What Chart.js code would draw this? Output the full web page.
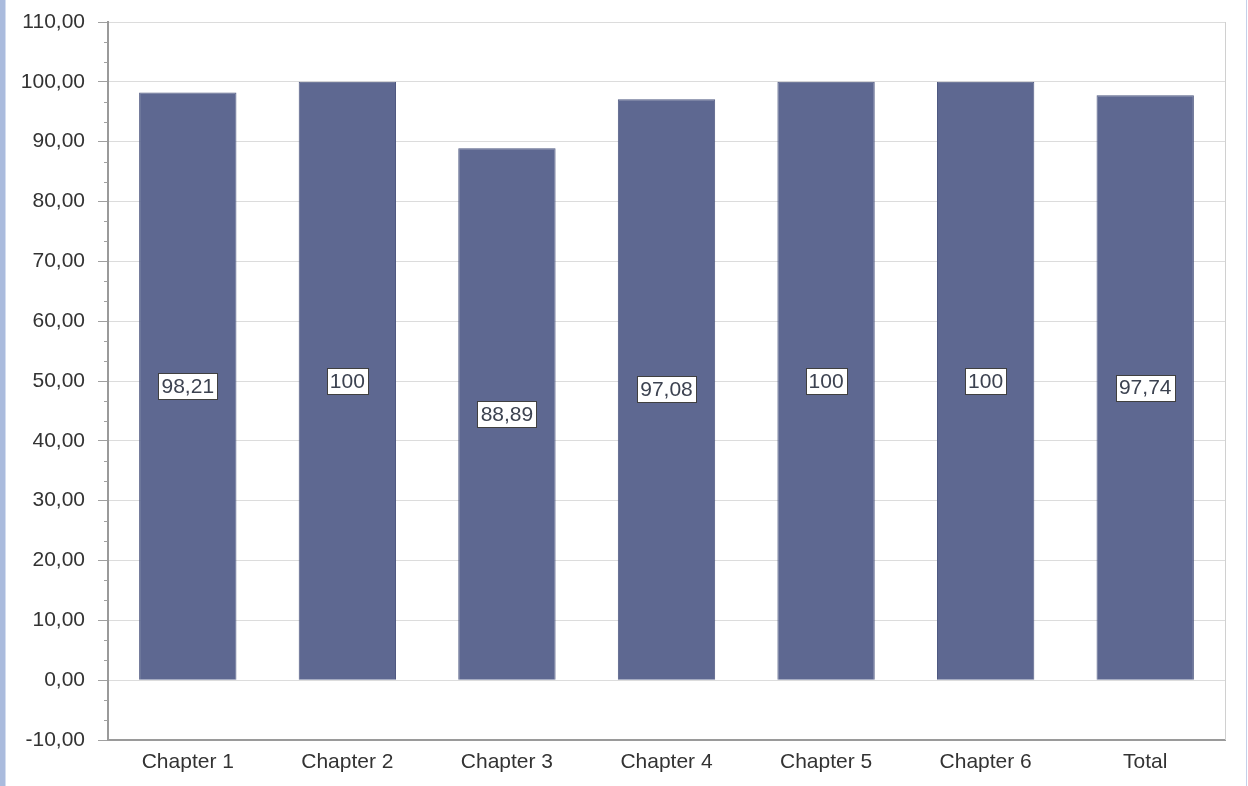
<!DOCTYPE html>
<html>
<head>
<meta charset="utf-8">
<script src="https://cdn.jsdelivr.net/npm/chart.js@4.4.1/dist/chart.umd.min.js"></script>
<style>
  html, body { margin: 0; padding: 0; background: #fff; }
  #wrap { position: relative; width: 1248px; height: 786px; overflow: hidden; }
  #lb { position: absolute; left: 0; top: 0; width: 5px; height: 786px; background: #aabbdd; border-right: 1px solid #d3ddef; }
  #rb { position: absolute; left: 1246px; top: 0; width: 1px; height: 786px; background: #c5d0ea; }
  canvas { position: absolute; left: 0; top: 0; }
</style>
</head>
<body>
<div id="wrap">
  <canvas id="c" width="1248" height="786"></canvas>
  <div id="lb"></div>
  <div id="rb"></div>
</div>
<script>
const categories = ["Chapter 1", "Chapter 2", "Chapter 3", "Chapter 4", "Chapter 5", "Chapter 6", "Total"];
const values = [98.21, 100, 88.89, 97.08, 100, 100, 97.74];
const valueLabels = ["98,21", "100", "88,89", "97,08", "100", "100", "97,74"];
const yMin = -10, yMax = 110, yStep = 10, minorPerMajor = 3;

const FONT = "'Liberation Sans', Arial, sans-serif";

const extras = {
  id: 'extras',
  beforeDatasetsDraw(chart) {
    const ctx = chart.ctx, ca = chart.chartArea, y = chart.scales.y;
    ctx.save();
    ctx.strokeStyle = '#d0d0d0';
    ctx.lineWidth = 1;
    ctx.beginPath();
    ctx.moveTo(ca.right + 0.5, ca.top);
    ctx.lineTo(ca.right + 0.5, ca.bottom);
    ctx.stroke();
    ctx.strokeStyle = '#a0a0a0';
    for (let v = yMin; v < yMax; v += yStep) {
      for (let k = 1; k < minorPerMajor; k++) {
        const py = Math.round(y.getPixelForValue(v + k * yStep / minorPerMajor)) + 0.5;
        ctx.beginPath();
        ctx.moveTo(ca.left - 4, py);
        ctx.lineTo(ca.left, py);
        ctx.stroke();
      }
    }
    ctx.restore();
  },
  afterDatasetsDraw(chart) {
    const ctx = chart.ctx;
    const meta = chart.getDatasetMeta(0);
    ctx.save();
    ctx.font = '21px ' + FONT;
    ctx.textAlign = 'center';
    ctx.textBaseline = 'middle';
    meta.data.forEach((bar, i) => {
      const text = valueLabels[i];
      const cx = bar.x;
      const cy = (bar.y + bar.base) / 2;
      const w = Math.round(ctx.measureText(text).width) + 6;
      const h = 26;
      const x0 = Math.round(cx - w / 2) + 0.5, y0 = Math.round(cy - h / 2) + 0.5;
      ctx.fillStyle = '#ffffff';
      ctx.fillRect(x0, y0, w, h);
      ctx.strokeStyle = '#404040';
      ctx.lineWidth = 1;
      ctx.strokeRect(x0, y0, w, h);
      ctx.fillStyle = '#3c4250';
      ctx.fillText(text, cx, cy + 1);
    });
    ctx.restore();
  }
};

new Chart(document.getElementById('c'), {
  type: 'bar',
  data: {
    labels: categories,
    datasets: [{
      data: values,
      backgroundColor: '#5e6891',
      borderColor: '#4f5981',
      borderWidth: 1,
      categoryPercentage: 1,
      barPercentage: 0.61
    }]
  },
  options: {
    responsive: false,
    animation: false,
    devicePixelRatio: 1,
    layout: { padding: { top: 22, right: 23, bottom: 0, left: 0 } },
    plugins: { legend: { display: false }, tooltip: { enabled: false } },
    scales: {
      x: {
        grid: { display: false, drawTicks: false },
        border: { display: true, color: '#9a9a9a', width: 2 },
        ticks: { color: '#333333', font: { family: FONT, size: 21 }, padding: 10, maxRotation: 0 },
        afterFit(s) { s.height = 46; s.paddingLeft = 0; s.paddingRight = 0; }
      },
      y: {
        min: yMin, max: yMax,
        grid: { color: '#dcdcdc', tickColor: '#a0a0a0', tickLength: 10, lineWidth: 1 },
        border: { display: true, color: '#9a9a9a', width: 2 },
        ticks: {
          stepSize: yStep,
          color: '#333333',
          font: { family: FONT, size: 21 },
          padding: 13,
          callback: v => v.toFixed(2).replace('.', ',')
        },
        afterFit(s) { s.width = 108; s.paddingTop = 0; s.paddingBottom = 0; }
      }
    }
  },
  plugins: [extras]
});
</script>
</body>
</html>
